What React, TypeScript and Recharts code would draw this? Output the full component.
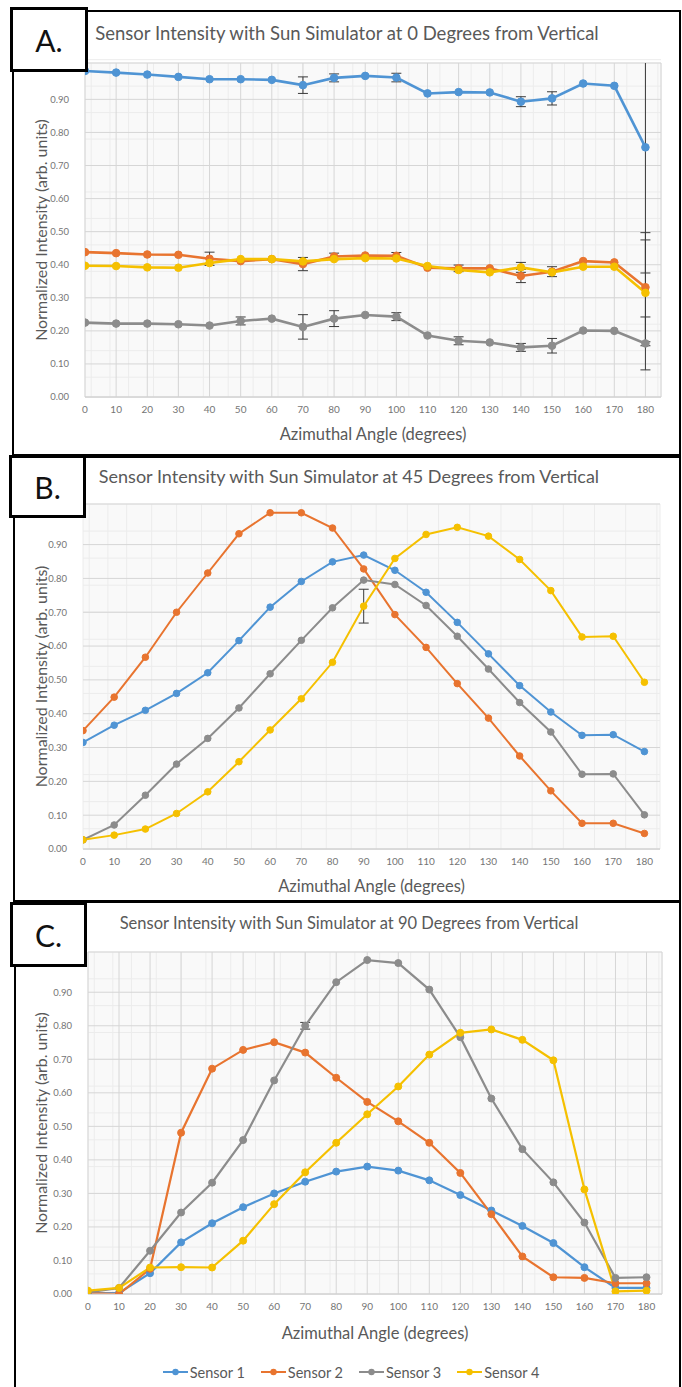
import React from 'react';
import { LineChart, Line, XAxis, YAxis, CartesianGrid, ErrorBar, Legend } from 'recharts';

const angles = [0, 10, 20, 30, 40, 50, 60, 70, 80, 90, 100, 110, 120, 130, 140, 150, 160, 170, 180];
const angleTicks = angles;
const intensityTicks = [0, 0.1, 0.2, 0.3, 0.4, 0.5, 0.6, 0.7, 0.8, 0.9];
const minorAngleTicks = Array.from({ length: 93 }, (_, i) => i * 2);
const minorIntensityTicks = Array.from({ length: 52 }, (_, i) => Math.round(i * 2) / 100);

const seriesNames = ['Sensor 1', 'Sensor 2', 'Sensor 3', 'Sensor 4'];
const seriesColors = ['#4f94d4', '#e8742f', '#8c8c8c', '#f5c000'];

// Panel A: 0 degrees from vertical
const a0Sensor1 = [0.986, 0.981, 0.975, 0.968, 0.961, 0.961, 0.959, 0.943, 0.965, 0.971, 0.966, 0.918, 0.922, 0.921, 0.893, 0.903, 0.948, 0.941, 0.755];
const a0Sensor2 = [0.438, 0.435, 0.431, 0.43, 0.418, 0.411, 0.417, 0.402, 0.425, 0.428, 0.427, 0.391, 0.389, 0.389, 0.366, 0.379, 0.411, 0.407, 0.332];
const a0Sensor3 = [0.225, 0.222, 0.222, 0.22, 0.216, 0.23, 0.237, 0.212, 0.237, 0.248, 0.243, 0.186, 0.17, 0.165, 0.15, 0.155, 0.201, 0.2, 0.162];
const a0Sensor4 = [0.397, 0.396, 0.392, 0.391, 0.405, 0.417, 0.417, 0.41, 0.417, 0.42, 0.419, 0.396, 0.384, 0.377, 0.392, 0.377, 0.394, 0.394, 0.315];
const a0Sensor1Err = [null, null, null, null, null, null, null, 0.025, 0.012, null, 0.013, null, null, null, 0.015, 0.02, null, null, 0.38];
const a0Sensor2Err = [null, null, null, null, 0.02, null, null, 0.02, 0.01, null, 0.01, null, 0.01, null, 0.02, 0.015, null, null, 0.165];
const a0Sensor3Err = [null, null, null, null, null, 0.012, null, 0.037, 0.024, null, 0.012, null, 0.012, null, 0.012, 0.022, null, null, 0.08];
const a0Sensor4Err = [null, null, null, null, null, null, null, null, null, null, null, null, null, null, 0.015, null, null, null, 0.16];

// Panel B: 45 degrees from vertical
const b45Sensor1 = [0.315, 0.366, 0.41, 0.46, 0.521, 0.616, 0.715, 0.791, 0.849, 0.869, 0.824, 0.759, 0.67, 0.577, 0.483, 0.405, 0.336, 0.338, 0.288];
const b45Sensor2 = [0.35, 0.449, 0.567, 0.7, 0.816, 0.932, 0.994, 0.994, 0.949, 0.828, 0.693, 0.596, 0.489, 0.387, 0.275, 0.172, 0.076, 0.076, 0.046];
const b45Sensor3 = [0.027, 0.071, 0.159, 0.251, 0.327, 0.417, 0.518, 0.617, 0.713, 0.795, 0.782, 0.72, 0.629, 0.532, 0.433, 0.346, 0.221, 0.222, 0.101];
const b45Sensor4 = [0.027, 0.041, 0.059, 0.105, 0.169, 0.258, 0.352, 0.444, 0.552, 0.718, 0.859, 0.93, 0.951, 0.925, 0.856, 0.764, 0.627, 0.629, 0.493];
const b45Sensor4Err = [null, null, null, null, null, null, null, null, null, 0.05, null, null, null, null, null, null, null, null, null];

// Panel C: 90 degrees from vertical
const c90Sensor1 = [0.003, 0.003, 0.062, 0.154, 0.211, 0.259, 0.3, 0.335, 0.365, 0.38, 0.368, 0.339, 0.295, 0.249, 0.203, 0.152, 0.08, 0.018, 0.018];
const c90Sensor2 = [0.003, 0.0, 0.075, 0.481, 0.672, 0.728, 0.751, 0.72, 0.645, 0.573, 0.515, 0.451, 0.361, 0.238, 0.112, 0.05, 0.048, 0.032, 0.032];
const c90Sensor3 = [0.005, 0.018, 0.129, 0.243, 0.332, 0.459, 0.637, 0.8, 0.93, 0.996, 0.987, 0.908, 0.766, 0.583, 0.432, 0.333, 0.213, 0.048, 0.05];
const c90Sensor4 = [0.01, 0.018, 0.079, 0.08, 0.079, 0.159, 0.268, 0.363, 0.451, 0.536, 0.619, 0.714, 0.779, 0.789, 0.758, 0.697, 0.312, 0.008, 0.01];
const c90Sensor3Err = [null, null, null, null, null, null, null, 0.01, null, null, null, null, null, null, null, null, null, null, null];

type Num = number | null;

function buildRows(values: number[][], errs: (Num[] | null)[]) {
  return angles.map((angle, i) => {
    const row: Record<string, Num> = { angle };
    values.forEach((v, k) => {
      row[`s${k + 1}`] = v[i];
      const e = errs[k];
      row[`e${k + 1}`] = e ? e[i] : null;
    });
    return row;
  });
}

const dataA = buildRows([a0Sensor1, a0Sensor2, a0Sensor3, a0Sensor4], [a0Sensor1Err, a0Sensor2Err, a0Sensor3Err, a0Sensor4Err]);
const dataB = buildRows([b45Sensor1, b45Sensor2, b45Sensor3, b45Sensor4], [null, null, null, b45Sensor4Err]);
const dataC = buildRows([c90Sensor1, c90Sensor2, c90Sensor3, c90Sensor4], [null, null, c90Sensor3Err, null]);

const FONT = 'Lato, "Open Sans", sans-serif';
const TEXT = '#595959';
const TICK = '#757575';

const LegendContent = (props: any) => {
  const payload = props.payload || [];
  return (
    <div style={{ display: 'flex', justifyContent: 'center', alignItems: 'center', paddingLeft: 20, height: 30, fontFamily: FONT, fontSize: 14.5, color: TEXT }}>
      {payload.map((p: any, i: number) => (
        <div key={i} style={{ display: 'flex', alignItems: 'center', marginRight: i < payload.length - 1 ? 16 : 0 }}>
          <svg width={25} height={10} style={{ marginRight: 2 }}>
            <line x1={0} y1={5} x2={25} y2={5} stroke={p.color} strokeWidth={2} />
            <circle cx={12.5} cy={5} r={3.2} fill={p.color} />
          </svg>
          <span>{p.value}</span>
        </div>
      ))}
    </div>
  );
};

type PanelProps = {
  id: string;
  data: Record<string, Num>[];
  top: number;
  height: number;
  plotTop: number;
  plotLeft: number;
  plotRight: number;
  bottomMargin: number;
  yMax: number;
  verticalGrid: boolean;
  strokeWidth: number;
  dotR: number;
  xLabelOffset: number;
  legend?: boolean;
};

function Panel(p: PanelProps) {
  return (
    <div className={`panel-${p.id}`} style={{ position: 'absolute', left: 0, top: p.top, width: 682, height: p.height }}>
      <LineChart
        width={682}
        height={p.height}
        data={p.data}
        margin={{ top: p.plotTop, right: 682 - p.plotRight, bottom: p.bottomMargin, left: 0 }}
        style={{ fontFamily: FONT }}
      >
        <XAxis xAxisId="minor" type="number" dataKey="angle" domain={[0, 185]} ticks={minorAngleTicks} hide allowDataOverflow />
        <YAxis yAxisId="minor" type="number" domain={[0, p.yMax]} ticks={minorIntensityTicks} hide allowDataOverflow />
        <CartesianGrid xAxisId="minor" yAxisId="minor" fill="#f9f9f9" stroke="#ececec" strokeWidth={1} vertical={true} horizontal={true} />
        <CartesianGrid stroke="#d6d6d6" strokeWidth={1} vertical={p.verticalGrid} horizontal={true} />
        <XAxis
          type="number"
          dataKey="angle"
          domain={[0, 185]}
          ticks={angleTicks}
          allowDataOverflow
          height={45}
          tickLine={false}
          tickSize={0}
          tickMargin={9}
          axisLine={{ stroke: '#d0d0d0' }}
          tick={{ fill: TICK, fontSize: 10, fontFamily: FONT }}
          label={{ value: 'Azimuthal Angle (degrees)', position: 'insideBottom', offset: p.xLabelOffset, fill: TEXT, fontSize: 16.5, fontFamily: FONT }}
        />
        <YAxis
          type="number"
          domain={[0, p.yMax]}
          ticks={intensityTicks}
          allowDataOverflow
          width={p.plotLeft}
          tickLine={false}
          axisLine={false}
          tickSize={0}
          tickMargin={16}
          tickFormatter={(v: number) => v.toFixed(2)}
          tick={{ fill: TICK, fontSize: 9.5, fontFamily: FONT }}
          label={{ value: 'Normalized Intensity (arb. units)', angle: -90, position: 'insideLeft', offset: 41, fill: TEXT, fontSize: 16, fontFamily: FONT, style: { textAnchor: 'middle' } }}
        />
        {p.legend && (
          <Legend verticalAlign="bottom" height={30} content={LegendContent as any} wrapperStyle={{ left: 0, width: 682, bottom: 0 }} />
        )}
        {seriesNames.map((name, k) => (
          <Line
            key={name}
            name={name}
            dataKey={`s${k + 1}`}
            stroke={seriesColors[k]}
            strokeWidth={p.strokeWidth}
            dot={{ r: p.dotR, fill: seriesColors[k], stroke: seriesColors[k], strokeWidth: 1 }}
            activeDot={false}
            isAnimationActive={false}
          >
            <ErrorBar dataKey={`e${k + 1}`} width={5} stroke="#3a3a3a" strokeWidth={1} direction="y" isAnimationActive={false} />
          </Line>
        ))}
      </LineChart>
    </div>
  );
}

const frame = (left: number, top: number, width: number, height: number): React.CSSProperties => ({
  position: 'absolute', left, top, width, height, border: '2px solid #000', boxSizing: 'border-box',
});

const labelBox = (left: number, top: number, width: number, height: number): React.CSSProperties => ({
  position: 'absolute', left, top, width, height, border: '3px solid #000', boxSizing: 'border-box', background: '#fff',
  display: 'flex', alignItems: 'center', justifyContent: 'center', fontFamily: FONT, fontSize: 30, color: '#111',
});

const titleStyle = (cx: number, cy: number, size: number): React.CSSProperties => ({
  position: 'absolute', left: cx - 320, top: cy - size * 0.65, width: 640, textAlign: 'center', fontFamily: FONT, fontSize: size, lineHeight: 1.2, color: TEXT, whiteSpace: 'nowrap',
});

const clipCss = `
.panel-A .recharts-errorBars, .panel-A .recharts-errorBar { clip-path: url(#plotClipA); }
.panel-B .recharts-errorBars, .panel-B .recharts-errorBar { clip-path: url(#plotClipB); }
.panel-C .recharts-errorBars, .panel-C .recharts-errorBar { clip-path: url(#plotClipC); }
`;

export default function App() {
  return (
    <div style={{ position: 'absolute', left: 0, top: 0, width: 682, height: 1387, background: '#fff', overflow: 'hidden' }}>
      <style>{clipCss}</style>
      <svg width={0} height={0} style={{ position: 'absolute' }}>
        <defs>
          <clipPath id="plotClipA" clipPathUnits="userSpaceOnUse"><rect x={85} y={51} width={576} height={334} /></clipPath>
          <clipPath id="plotClipB" clipPathUnits="userSpaceOnUse"><rect x={83} y={46} width={577} height={345} /></clipPath>
          <clipPath id="plotClipC" clipPathUnits="userSpaceOnUse"><rect x={88} y={49} width={574} height={342} /></clipPath>
        </defs>
      </svg>
      <div style={frame(12, 10, 669, 446)} />
      <div style={frame(13, 456, 668, 446)} />
      <div style={frame(14, 901, 667, 500)} />
      <Panel id="A" data={dataA} top={12} height={446} plotTop={51} plotLeft={85} plotRight={661} bottomMargin={16} yMax={1.01} verticalGrid strokeWidth={2.6} dotR={3.8} xLabelOffset={2} />
      <Panel id="B" data={dataB} top={458} height={437} plotTop={46} plotLeft={83} plotRight={660} bottomMargin={1} yMax={1.02} verticalGrid={false} strokeWidth={2} dotR={3.3} xLabelOffset={2} />
      <Panel id="C" data={dataC} top={903} height={484} plotTop={49} plotLeft={88} plotRight={662} bottomMargin={18} yMax={1.02} verticalGrid strokeWidth={2.2} dotR={3.5} xLabelOffset={0} legend />
      <div style={titleStyle(347, 34, 18.5)}>Sensor Intensity with Sun Simulator at 0 Degrees from Vertical</div>
      <div style={titleStyle(349, 478, 18)}>Sensor Intensity with Sun Simulator at 45 Degrees from Vertical</div>
      <div style={titleStyle(349, 925, 16.5)}>Sensor Intensity with Sun Simulator at 90 Degrees from Vertical</div>
      <div style={labelBox(10, 7, 78, 65)}>A.</div>
      <div style={labelBox(9, 455, 77, 63)}>B.</div>
      <div style={labelBox(10, 902, 77, 65)}>C.</div>
    </div>
  );
}
